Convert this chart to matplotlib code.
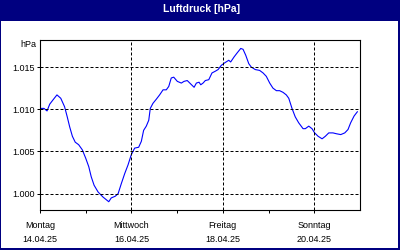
import matplotlib.pyplot as plt
from matplotlib.patches import Rectangle
from matplotlib.ticker import FuncFormatter

plt.rcParams["font.family"] = "Liberation Sans"

# hours since Monday 14.04.25 00:00
hours = [0.4, 2.1, 3.7, 5.1, 6.8, 8.9, 10.9, 12.9, 14.3, 15.6, 17.0, 18.5, 20.3, 22.2,
         24.0, 25.6, 26.9, 28.4, 30.5, 33.1, 36.1, 37.4, 39.5, 41.0, 42.7, 44.5, 46.2,
         47.9, 49.7, 51.8, 53.2, 54.4, 55.8, 57.1, 57.9, 59.3, 61.1, 62.8, 64.6, 66.3,
         67.6, 68.9, 70.2, 72.1, 74.2, 75.6, 77.3, 79.1, 80.9, 82.1, 83.5, 84.4, 85.6,
         86.8, 88.6, 90.3, 92.0, 93.5, 95.2, 97.0, 99.1, 100.1, 101.9, 103.6, 105.4,
         106.6, 108.0, 109.6, 110.9, 113.0, 115.3, 117.1, 118.8, 120.6, 122.3, 124.1,
         125.8, 127.6, 129.3, 130.6, 132.3, 134.0, 135.8, 138.1, 139.3, 141.1, 142.8,
         144.2, 146.0, 148.1, 149.8, 151.6, 153.8, 155.6, 157.9, 160.0, 161.7, 163.1,
         164.9, 166.6]
pressure = [1010.1, 1010.1, 1009.8, 1010.6, 1011.1, 1011.7, 1011.3, 1010.3, 1009.1,
            1007.9, 1006.8, 1006.1, 1005.8, 1005.2, 1004.2, 1003.2, 1002.0, 1001.0,
            1000.2, 999.6, 999.05, 999.5, 999.7, 1000.0, 1001.2, 1002.4, 1003.4, 1004.6,
            1005.4, 1005.5, 1006.2, 1007.5, 1008.0, 1008.7, 1010.1, 1010.7, 1011.2,
            1011.7, 1012.3, 1012.3, 1012.7, 1013.7, 1013.8, 1013.3, 1013.1, 1013.3,
            1013.4, 1013.0, 1012.6, 1013.1, 1013.2, 1012.9, 1013.1, 1013.4, 1013.5,
            1014.3, 1014.5, 1014.7, 1015.2, 1015.5, 1015.8, 1015.6, 1016.2, 1016.7,
            1017.2, 1017.1, 1016.4, 1015.4, 1015.0, 1014.7, 1014.6, 1014.3, 1013.9,
            1013.1, 1012.5, 1012.2, 1012.2, 1012.0, 1011.7, 1011.3, 1010.1, 1009.1,
            1008.4, 1007.7, 1007.7, 1008.0, 1007.7, 1007.2, 1006.8, 1006.5, 1006.8,
            1007.2, 1007.2, 1007.1, 1007.0, 1007.2, 1007.6, 1008.4, 1009.2, 1009.7]

day_ticks = [0, 24, 48, 72, 96, 120, 144]
day_labels = ["Montag\n14.04.25", "", "Mittwoch\n16.04.25", "",
              "Freitag\n18.04.25", "", "Sonntag\n20.04.25"]
y_ticks = [1000, 1005, 1010, 1015]

navy = "#000080"
fig = plt.figure(figsize=(4, 2.5), dpi=100)

# title bar and frame
fig.add_artist(Rectangle((0, 1 - 21 / 250), 1, 21 / 250, transform=fig.transFigure, color=navy, lw=0))
fig.add_artist(Rectangle((0, 0), 1 / 400, 1, transform=fig.transFigure, color=navy, lw=0))
fig.add_artist(Rectangle((1 - 2 / 400, 0), 2 / 400, 1, transform=fig.transFigure, color=navy, lw=0))
fig.add_artist(Rectangle((0, 0), 1, 2 / 250, transform=fig.transFigure, color=navy, lw=0))
fig.text(0.505, 1 - 9 / 250, "Luftdruck [hPa]", ha="center", va="center",
         color="white", fontweight="bold", fontsize=7.5)

ax = fig.add_axes([40 / 400, 40 / 250, 320 / 400, 170 / 250])
ax.plot(hours, pressure, color="#0000ff", lw=0.8)
ax.set_xlim(0, 168)
ax.set_ylim(998.07, 1018.2)

ax.set_yticks(y_ticks)
ax.yaxis.set_major_formatter(FuncFormatter(lambda v, p: f"{v / 1000:.3f}"))
ax.set_xticks(day_ticks)
ax.set_xticklabels(day_labels, linespacing=1.7)
ax.tick_params(length=2, width=0.72, labelsize=6.5, pad=2)
ax.tick_params(axis="x", pad=6)

for y in y_ticks:
    ax.axhline(y, color="black", lw=0.72, ls=(0, (3, 2)))
for x in [48, 96, 144]:
    ax.axvline(x, color="black", lw=0.72, ls=(0, (3, 2)))
for s in ax.spines.values():
    s.set_linewidth(0.8)

fig.text(36 / 400, 1 - 45 / 250, "hPa", ha="right", va="center", fontsize=6.5)

fig.savefig("out.png", dpi=100)
